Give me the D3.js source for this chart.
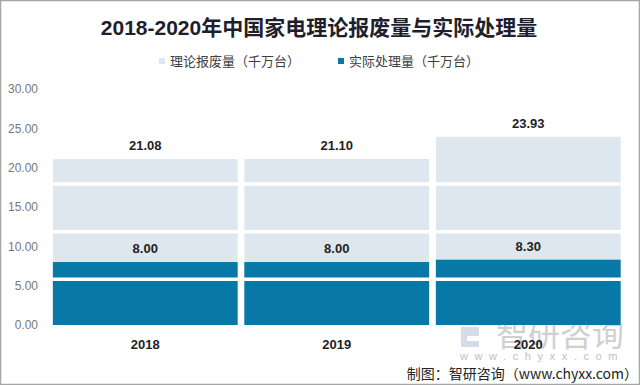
<!DOCTYPE html>
<html><head><meta charset="utf-8">
<script src="https://cdn.jsdelivr.net/npm/d3@7"></script>
<style>
html,body{margin:0;padding:0;background:#fff;}
svg{display:block;}
</style></head>
<body><svg id="c" width="640" height="385"></svg>
<script>
const categories = ["2018", "2019", "2020"];
const theoretical = [21.08, 21.10, 23.93];
const actual = [8.00, 8.00, 8.30];
const yTicks = [0, 5, 10, 15, 20, 25, 30];
const seriesNames = ["理论报废量（千万台）", "实际处理量（千万台）"];
const bandBreaks = [5.82, 11.86, 17.92];
const titleText = "2018-2020年中国家电理论报废量与实际处理量";
const sourceText = "制图：智研咨询（www.chyxx.com）";

const svg = d3.select("#c");
const W = 640, H = 385;
const lightC = "#dee6ee", darkC = "#0878a6";
const fontNum = "'Liberation Sans', Arial, 'Noto Sans CJK SC', sans-serif";
const fontCJK = "'Noto Sans CJK SC', 'Liberation Sans', sans-serif";

svg.append("rect").attr("x",0.5).attr("y",0.5).attr("width",W-1).attr("height",H-1)
  .attr("fill","#fff").attr("stroke","#a6a6a6").attr("stroke-width",1.5);

const x = d3.scaleBand().domain(categories).range([49.5, 624]).paddingInner(0.035).paddingOuter(0.0175);
const y = d3.scaleLinear().domain([0, 30]).range([325, 89]);

// title
svg.append("text").attr("x", 319).attr("y", 35).attr("text-anchor","middle")
  .attr("font-family", fontNum).attr("font-weight","bold").attr("font-size", 21)
  .attr("fill","#1e1e2c").text(titleText);

// legend
const leg = [{name:seriesNames[0], c:lightC, x:159}, {name:seriesNames[1], c:darkC, x:338}];
leg.forEach(l => {
  svg.append("rect").attr("x", l.x).attr("y", 58).attr("width",6).attr("height",6).attr("fill", l.c);
  svg.append("text").attr("x", l.x+11).attr("y", 66).attr("font-family", fontCJK)
    .attr("font-size", 13).attr("fill","#404040").text(l.name);
});

// watermark
const wm = svg.append("g");
wm.append("text").attr("x", 496).attr("y", 346).attr("font-family", fontCJK).attr("font-size", 32)
  .attr("fill","#d0d0d0").text("智研咨询");
wm.append("path").attr("d","M461,327 h18 v9 h-12 v5 h12 v6 h-18 z").attr("fill","#d3dde8");
wm.append("text").attr("x", 460).attr("y", 360).attr("font-family", fontNum).attr("font-size", 11)
  .attr("letter-spacing", 6.6).attr("fill","#c0c0c0").text("www.chyxx.com");

// y axis
const yAxis = d3.axisLeft(y).tickValues(yTicks).tickFormat(d3.format(".2f")).tickSize(0).tickPadding(0);
const ga = svg.append("g").attr("transform","translate(38,0)").call(yAxis);
ga.select(".domain").remove();
ga.selectAll("text").attr("font-family", fontNum).attr("font-size", 12).attr("fill","#777");

// bars
svg.append("g").selectAll("rect").data(categories).join("rect")
  .attr("x", d => x(d)).attr("width", x.bandwidth())
  .attr("y", (d,i) => y(theoretical[i])).attr("height", (d,i) => y(0) - y(theoretical[i]))
  .attr("fill", lightC);
svg.append("g").selectAll("rect").data(categories).join("rect")
  .attr("x", d => x(d)).attr("width", x.bandwidth())
  .attr("y", (d,i) => y(actual[i])).attr("height", (d,i) => y(0) - y(actual[i]))
  .attr("fill", darkC);

// white band breaks
svg.append("g").selectAll("line").data(bandBreaks).join("line")
  .attr("x1", 45).attr("x2", 628).attr("y1", d => y(d)).attr("y2", d => y(d))
  .attr("stroke","#fff").attr("stroke-width", 3.5);

// value labels
const fmt = d3.format(".2f");
svg.append("g").selectAll("text").data(categories).join("text")
  .attr("x", d => x(d) + x.bandwidth()/2).attr("y", (d,i) => y(theoretical[i]) - 9)
  .attr("text-anchor","middle").attr("font-family", fontNum).attr("font-weight","bold")
  .attr("font-size", 13).attr("fill","#222").text((d,i) => fmt(theoretical[i]));
svg.append("g").selectAll("text").data(categories).join("text")
  .attr("x", d => x(d) + x.bandwidth()/2).attr("y", (d,i) => y(actual[i]) - 9)
  .attr("text-anchor","middle").attr("font-family", fontNum).attr("font-weight","bold")
  .attr("font-size", 13).attr("fill","#222").text((d,i) => fmt(actual[i]));

// x axis
const xAxis = d3.axisBottom(x).tickSize(0).tickPadding(0);
const gx = svg.append("g").attr("transform","translate(0,340)").call(xAxis);
gx.select(".domain").remove();
gx.selectAll("text").attr("dy","0.71em").attr("font-family", fontNum).attr("font-weight","bold")
  .attr("font-size", 13).attr("fill","#222");

// source
svg.append("text").attr("x", 638).attr("y", 379).attr("text-anchor","end")
  .attr("font-family", fontCJK).attr("font-size", 14).attr("fill","#222").text(sourceText);
</script></body></html>
